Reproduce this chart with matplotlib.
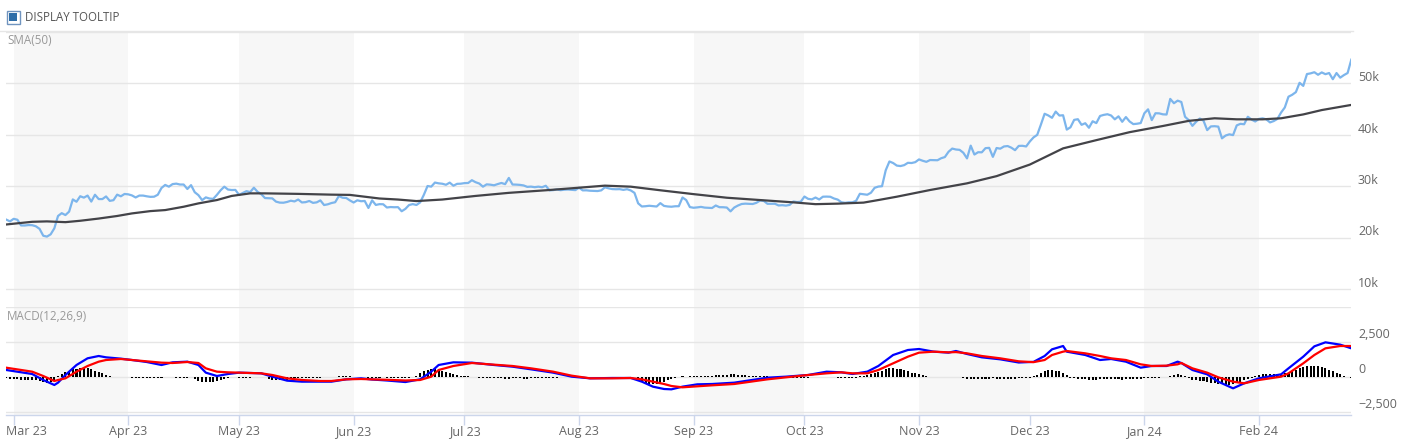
import matplotlib
matplotlib.use("Agg")
import matplotlib.pyplot as plt
import matplotlib.dates as mdates
import matplotlib.transforms as mtrans
from matplotlib.patches import Rectangle
from matplotlib.lines import Line2D
import numpy as np
import pandas as pd

plt.rcParams['font.family'] = ['Open Sans', 'DejaVu Sans']

# ---------------- data ----------------
start_date = "2023-02-27"
# daily closing price, thousands (Feb 27 2023 .. Feb 26 2024)
price_feb23 = [23.49, 23.15]
price_mar23 = [23.65, 23.47, 22.36, 22.35, 22.43, 22.41, 22.2, 21.7, 20.36, 20.19, 20.63, 21.8, 24.2, 24.75, 24.38,
               25.05, 27.42, 26.97, 28.04, 27.77, 28.17, 27.0, 28.33, 27.49, 27.49, 28.0, 27.14, 27.27, 28.35, 28.03, 28.48]
price_apr23 = [28.41, 28.2, 27.8, 28.17, 28.17, 28.03, 27.92, 27.95, 28.33, 29.65, 30.24, 29.9, 30.4, 30.49, 30.32,
               30.32, 29.45, 30.2, 28.82, 28.25, 27.28, 27.82, 27.59, 27.53, 28.31, 29.2, 29.9, 29.34, 29.25, 29.27]
price_may23 = [28.3, 28.68, 29.03, 28.85, 29.7, 28.9, 28.45, 27.69, 27.66, 27.62, 26.99, 26.8, 26.78, 26.93, 27.17,
               27.03, 27.4, 26.83, 26.89, 27.12, 26.75, 26.85, 27.23, 26.33, 26.47, 26.72, 26.87, 28.08, 27.75, 27.7, 27.22]
price_jun23 = [26.82, 27.25, 27.07, 27.12, 25.76, 27.24, 26.35, 26.5, 26.48, 25.85, 25.94, 25.9, 25.92, 25.12, 25.58,
               26.33, 26.51, 26.34, 26.84, 28.31, 30.03, 29.91, 30.7, 30.55, 30.47, 30.27, 30.69, 30.09, 30.45, 30.48]
price_jul23 = [30.59, 30.62, 31.16, 30.77, 30.51, 29.9, 30.35, 30.29, 30.17, 30.41, 30.62, 30.39, 31.6, 30.32, 30.3,
               30.25, 30.14, 29.86, 29.91, 29.8, 29.9, 29.79, 30.08, 29.18, 29.23, 29.35, 29.22, 29.31, 29.35, 29.28, 29.23]
price_aug23 = [29.7, 29.18, 29.19, 29.11, 29.09, 29.05, 29.18, 29.77, 29.58, 29.43, 29.4, 29.42, 29.28, 29.41, 29.17,
               28.7, 26.66, 26.05, 26.1, 26.19, 26.12, 26.04, 26.7, 26.16, 26.05, 26.0, 26.09, 26.1, 27.8, 27.3, 25.93]
price_sep23 = [25.8, 25.87, 25.97, 25.83, 25.78, 25.75, 26.24, 25.91, 25.9, 25.84, 25.1, 25.84, 26.23, 26.53, 26.6,
               26.57, 26.53, 26.76, 27.21, 27.13, 26.57, 26.58, 26.58, 26.25, 26.3, 26.22, 26.35, 27.02, 26.91, 26.97]
price_oct23 = [27.98, 27.53, 27.43, 27.79, 27.41, 27.95, 27.97, 27.94, 27.6, 27.39, 26.87, 26.76, 26.86, 26.86, 27.16,
               28.52, 28.42, 28.33, 28.72, 29.68, 29.92, 29.99, 33.09, 34.8, 34.5, 34.0, 33.91, 34.09, 34.54, 34.5, 34.67]
price_nov23 = [35.2, 34.94, 34.73, 35.08, 35.05, 35.04, 35.43, 35.66, 36.69, 37.31, 37.13, 37.06, 36.5, 35.4, 37.88,
               36.15, 36.6, 36.58, 37.39, 37.45, 35.7, 37.42, 37.29, 37.72, 37.8, 37.48, 37.0, 37.83, 37.85, 37.72]
price_dec23 = [38.69, 39.48, 39.98, 41.98, 44.08, 43.75, 43.29, 44.5, 43.73, 43.79, 41.0, 41.45, 42.89, 43.02, 41.93,
               42.24, 41.36, 42.62, 42.27, 43.65, 43.86, 43.99, 43.74, 43.0, 43.58, 42.52, 43.44, 42.58, 42.07, 42.14, 42.27]
price_jan24 = [44.18, 44.94, 42.85, 44.18, 44.16, 43.97, 43.93, 46.97, 46.13, 46.63, 46.37, 43.5, 42.84, 41.73, 42.51,
               43.15, 42.74, 40.9, 41.62, 41.66, 41.58, 39.3, 39.85, 40.08, 39.93, 41.82, 42.12, 42.04, 43.5, 42.95, 42.58]
price_feb24 = [43.08, 43.19, 43.0, 42.4, 42.66, 43.08, 44.32, 45.3, 47.4, 47.77, 48.29, 50.1, 49.5, 51.8, 51.94,
               52.16, 51.66, 52.12, 51.78, 52.0, 50.8, 52.0, 51.1, 51.6, 52.0, 54.6]

# SMA(50), read at sample dates (thousands)
sma_dates = ["2023-02-27", "2023-03-06", "2023-03-10", "2023-03-15", "2023-03-19", "2023-03-24", "2023-03-29",
             "2023-04-02", "2023-04-07", "2023-04-11", "2023-04-16", "2023-04-20", "2023-04-25", "2023-04-29",
             "2023-05-04", "2023-05-08", "2023-05-17", "2023-05-26", "2023-05-31", "2023-06-04", "2023-06-08",
             "2023-06-13", "2023-06-18", "2023-06-25", "2023-07-04", "2023-07-13", "2023-07-23", "2023-08-01",
             "2023-08-08", "2023-08-15", "2023-08-23", "2023-09-01", "2023-09-10", "2023-09-19", "2023-09-28",
             "2023-10-04", "2023-10-10", "2023-10-17", "2023-10-21", "2023-10-26", "2023-11-04", "2023-11-14",
             "2023-11-22", "2023-12-01", "2023-12-10", "2023-12-19", "2023-12-28", "2024-01-06", "2024-01-13",
             "2024-01-20", "2024-01-26", "2024-02-02", "2024-02-07", "2024-02-13", "2024-02-18", "2024-02-26"]
sma_values = [22.55, 23.07, 23.15, 23.0, 23.27, 23.7, 24.2,
              24.7, 25.15, 25.35, 26.0, 26.65, 27.3, 28.1,
              28.6, 28.6, 28.5, 28.35, 28.3, 27.95, 27.6,
              27.4, 27.1, 27.4, 28.1, 28.7, 29.2, 29.7,
              30.1, 29.9, 29.2, 28.45, 27.75, 27.3, 26.85,
              26.5, 26.6, 26.8, 27.3, 27.95, 29.25, 30.55,
              31.95, 34.2, 37.35, 38.95, 40.5, 41.7, 42.7,
              43.2, 43.0, 43.0, 43.2, 43.95, 44.8, 45.8]

# MACD(12,26,9) line and signal line, read at sample dates
macd_dates = ["2023-02-27", "2023-03-06", "2023-03-09", "2023-03-12", "2023-03-13", "2023-03-15", "2023-03-18",
              "2023-03-21", "2023-03-24", "2023-03-26", "2023-03-30", "2023-04-02", "2023-04-06", "2023-04-10",
              "2023-04-13", "2023-04-17", "2023-04-20", "2023-04-22", "2023-04-25", "2023-04-28", "2023-05-01",
              "2023-05-07", "2023-05-10", "2023-05-14", "2023-05-18", "2023-05-23", "2023-05-26", "2023-05-30",
              "2023-06-03", "2023-06-06", "2023-06-10", "2023-06-15", "2023-06-19", "2023-06-22", "2023-06-24",
              "2023-06-28", "2023-07-03", "2023-07-09", "2023-07-14", "2023-07-19", "2023-07-25", "2023-07-30",
              "2023-08-04", "2023-08-10", "2023-08-15", "2023-08-18", "2023-08-21", "2023-08-24", "2023-08-26",
              "2023-08-29", "2023-09-02", "2023-09-06", "2023-09-12", "2023-09-21", "2023-09-26", "2023-10-02",
              "2023-10-07", "2023-10-11", "2023-10-14", "2023-10-18", "2023-10-21", "2023-10-25", "2023-10-29",
              "2023-11-01", "2023-11-05", "2023-11-09", "2023-11-11", "2023-11-14", "2023-11-18", "2023-11-23",
              "2023-11-28", "2023-12-02", "2023-12-05", "2023-12-07", "2023-12-10", "2023-12-11", "2023-12-16",
              "2023-12-20", "2023-12-23", "2023-12-27", "2023-12-31", "2024-01-03", "2024-01-07", "2024-01-10",
              "2024-01-11", "2024-01-14", "2024-01-18", "2024-01-21", "2024-01-25", "2024-01-28", "2024-02-01",
              "2024-02-07", "2024-02-09", "2024-02-13", "2024-02-16", "2024-02-19", "2024-02-23", "2024-02-26"]
macd_line = [500, 214, -214, -571, -405, 143, 857,
             1336, 1500, 1405, 1310, 1214, 1071, 857,
             1048, 1095, 857, 310, 71, 214, 310,
             262, 24, -262, -333, -333, -333, -167,
             -95, -180, -250, -360, -167, 380, 857,
             1048, 1024, 857, 738, 548, 310, 24,
             -95, -71, -71, -333, -690, -857, -881,
             -690, -524, -500, -405, -48, 24, 143,
             380, 333, 214, 380, 786, 1571, 1929,
             2000, 1810, 1738, 1857, 1643, 1405, 1262,
             1035, 1080, 1500, 1976, 2214, 1810, 1571,
             1214, 1286, 1095, 667, 786, 786, 1095,
             1000, 500, 190, -333, -810, -452, -95,
             190, 619, 1452, 2190, 2476, 2310, 2048]
signal_line = [664, 380, 71, -286, -214, -95, 380,
               786, 1094, 1214, 1286, 1214, 1119, 1024,
               1000, 1071, 1000, 619, 380, 333, 310,
               262, 143, -95, -214, -286, -286, -167,
               -143, -170, -200, -250, -214, 24, 500,
               786, 1000, 881, 786, 619, 380, 95,
               -95, -95, -71, -167, -333, -500, -643,
               -738, -665, -595, -500, -167, -24, 143,
               262, 333, 262, 262, 500, 976, 1452,
               1738, 1810, 1760, 1780, 1690, 1500, 1334,
               1120, 1060, 1214, 1571, 1810, 1857, 1690,
               1500, 1334, 1214, 905, 786, 810, 905,
               1000, 619, 310, -24, -333, -452, -214,
               24, 262, 976, 1571, 2048, 2214, 2214]

# MACD histogram, daily from start_date
macd_hist = ([-100, -120, -150, -150, -180, -200, -200, -220, -250, -300]
             + [-380, -420, -350, -200]
             + [50, 200, 350, 450, 550, 600, 650, 650, 620, 550, 450, 350, 250, 150, 60]
             + [0, 0, 20, 0, 0]
             + [-60, -80, -80, -80, -90, -90, -80, -70, -60]
             + [0, -20, 0]
             + [-50, -60, -60, -40, 0]
             + [-150, -280, -350, -380, -380, -350, -300, -220, -150]
             + [-60, 30, 30]
             + [-40, -60, -60, -40]
             + [0, 20, 0, -30]
             + [-150, -200, -250, -250, -230, -180, -120]
             + [-60, -60, -50, -50, -60, -60, -50, -40, -30, -30, -20]
             + [30, 60, 60, 50, 40, 30, 20, 0, -10]
             + [-60, -70, -60, -40, -30, -50, -60, -60, -80, -80, -60, -40, -20]
             + [80, 250, 400, 500, 550, 550, 520, 450, 380, 300, 220, 160, 100]
             + [60, 40, 20, 0]
             + [-60, -80, -100, -100, -60, -80, -100, -120, -120, -100, -100, -80, -120, -120, -100,
                -80, -60, -80, -60, -50, -40, -40, -30, -30, -20]
             + [-20, -20, -10, -10, -10, 0, -10, -20, -20, -10, -10, -20, -20, -10, -10, 0, 0, -30]
             + [-200, -350, -420, -480, -500, -480, -420, -350, -250, -150]
             + [-80, 30, 40, 30, 40]
             + [40, 60, 60, 80, 100, 100, 120, 130, 150, 170, 190, 180, 150, 140, 120, 100, 80, 60, 50, 40, 40]
             + [30, 30, 20, 10, 0, -30, -40, -40, -50, -50, -40, -30, -20, 0, 20, 20, 0, -30, -60]
             + [-90, -100, -100, -80, -40, 40, 80]
             + [120, 180, 250, 350, 450, 550, 620, 640, 600, 550, 480, 400, 320, 250, 180, 120, 60]
             + [30, 0, 0, 20, 0, 0, -10, -20, -30]
             + [-100, -110, -120, -120, -110, -120, -120, -110, -100, -120, -120, -110, -110, -120, -110,
                -100, -90, -80, -60]
             + [50, 150, 300, 420, 480, 480, 450, 400, 300, 150]
             + [-60, -100, -120, -150, -150, -180, -190, -180, -150, -150, -130, -150, -150, -170, -180,
                -160, -140, -120, -130, -120, -100, -90, -80, -60, -40, -20, 0]
             + [100, 160, 180, 140, 60]
             + [-100, -200, -250, -280, -300, -350, -400, -450, -480, -520, -560, -560, -520, -450, -350,
                -250, -150, -50]
             + [80, 150, 180, 200, 200, 180, 200, 220, 250, 300]
             + [400, 500, 620, 720, 780, 800, 780, 760, 700, 620, 520, 400, 300, 200, 80, -30, -60])

month_ticks = ["2023-03-01", "2023-04-01", "2023-05-01", "2023-06-01", "2023-07-01", "2023-08-01",
               "2023-09-01", "2023-10-01", "2023-11-01", "2023-12-01", "2024-01-01", "2024-02-01"]
month_labels = ["Mar 23", "Apr 23", "May 23", "Jun 23", "Jul 23", "Aug 23",
                "Sep 23", "Oct 23", "Nov 23", "Dec 23", "Jan 24", "Feb 24"]
price_ticks = [10000, 20000, 30000, 40000, 50000]
price_tick_labels = ["10k", "20k", "30k", "40k", "50k"]
macd_ticks = [-2500, 0, 2500]
macd_tick_labels = ["\u22122,500", "0", "2,500"]

# ---------------- figure ----------------
W, H = 1401, 448
fig = plt.figure(figsize=(W / 100, H / 100), dpi=100)
fig.patch.set_facecolor("white")


def px_axes(left, top, right, bottom):
    return fig.add_axes([left / W, 1 - bottom / H, (right - left) / W, (bottom - top) / H])


ax1 = px_axes(6.3, 31.9, 1351.3, 307)
ax2 = px_axes(6.3, 307, 1351.3, 414.5)

prices = np.array(price_feb23 + price_mar23 + price_apr23 + price_may23 + price_jun23 + price_jul23 +
                  price_aug23 + price_sep23 + price_oct23 + price_nov23 + price_dec23 + price_jan24 +
                  price_feb24) * 1000
price_dates = pd.date_range(start_date, periods=len(prices), freq="D")
hist_dates = pd.date_range(start_date, periods=len(macd_hist), freq="D")

x0 = mdates.date2num(price_dates[0])
x1 = mdates.date2num(price_dates[-1])
ticks_num = mdates.date2num(pd.to_datetime(month_ticks))
band_edges = list(ticks_num) + [mdates.date2num(pd.Timestamp(month_ticks[-1]) + pd.offsets.MonthBegin(1))]

GRID = "#e6e6e6"
LABEL = "#666666"
AXFS = 9

for ax in (ax1, ax2):
    ax.set_facecolor("none")
    for i in range(0, len(band_edges) - 1, 2):
        ax.axvspan(band_edges[i], band_edges[i + 1], color="#f7f7f7", zorder=0, lw=0)
    for s in ax.spines.values():
        s.set_visible(False)
    ax.set_xlim(x0, x1)
    ax.tick_params(axis="y", left=False, right=False, labelleft=False, labelright=False)

# top pane
ax1.set_ylim(6500, 60000)
for v in price_ticks + [60000]:
    ax1.axhline(v, color=GRID, lw=1, zorder=1)
ax1.plot(price_dates, prices, color="#7cb5ec", lw=1.6, zorder=3, solid_joinstyle="round")
ax1.plot(pd.to_datetime(sma_dates), np.array(sma_values) * 1000, color="#434348", lw=1.6, zorder=4,
         solid_joinstyle="round")
ax1.set_xlim(x0, x1)
ax1.tick_params(axis="x", bottom=False, labelbottom=False)

ylab_tr1 = mtrans.blended_transform_factory(ax1.transAxes, ax1.transData) + \
    mtrans.ScaledTranslation(6.7 / 100, 5.6 / 100, fig.dpi_scale_trans)
for v, lab in zip(price_ticks, price_tick_labels):
    ax1.text(1.0, v, lab, transform=ylab_tr1, ha="left", va="center", color=LABEL, fontsize=AXFS, clip_on=False)

# MACD pane
ax2.set_ylim(-2679, 5000)
for v in macd_ticks + [5000]:
    ax2.axhline(v, color=GRID, lw=1, zorder=1)
ax2.bar(hist_dates, macd_hist, width=0.55, color="black", zorder=2, linewidth=0)
ax2.plot(pd.to_datetime(macd_dates), macd_line, color="#0000ff", lw=1.6, zorder=3, solid_joinstyle="round")
ax2.plot(pd.to_datetime(macd_dates), signal_line, color="#ff0000", lw=1.6, zorder=4, solid_joinstyle="round")
ax2.set_xlim(x0, x1)

ylab_tr2 = mtrans.blended_transform_factory(ax2.transAxes, ax2.transData) + \
    mtrans.ScaledTranslation(6.7 / 100, 7.0 / 100, fig.dpi_scale_trans)
for v, lab in zip(macd_ticks, macd_tick_labels):
    ax2.text(1.0, v, lab, transform=ylab_tr2, ha="left", va="center", color=LABEL, fontsize=AXFS, clip_on=False)

ax2.spines["bottom"].set_visible(True)
ax2.spines["bottom"].set_color("#ccd6eb")
ax2.spines["bottom"].set_linewidth(1)
ax2.set_xticks(ticks_num)
ax2.set_xticklabels([])
ax2.tick_params(axis="x", direction="out", length=7.2, width=1, color="#ccd6eb", labelbottom=False)

xlab_tr = mtrans.blended_transform_factory(ax2.transData, ax2.transAxes) + \
    mtrans.ScaledTranslation(0, -17.2 / 100, fig.dpi_scale_trans)
for i, (t, lab) in enumerate(zip(ticks_num, month_labels)):
    if i == 0:
        tr = xlab_tr + mtrans.ScaledTranslation(-7.7 / 100, 0, fig.dpi_scale_trans)
        ax2.text(t, 0, lab, transform=tr, ha="left", va="center", color=LABEL, fontsize=AXFS, clip_on=False)
    else:
        ax2.text(t, 0, lab, transform=xlab_tr, ha="center", va="center", color=LABEL, fontsize=AXFS,
                 clip_on=False)

# header / indicator labels
fig.add_artist(Line2D([0, 1353 / W], [1 - 31.5 / H, 1 - 31.5 / H], color=GRID, lw=1))
fig.add_artist(Rectangle((6.5 / W, 1 - 24 / H), 13 / W, 13 / H, transform=fig.transFigure,
                         facecolor="white", edgecolor="#7094bf", lw=1))
fig.add_artist(Rectangle((9 / W, 1 - 21.5 / H), 8 / W, 8 / H, transform=fig.transFigure,
                         facecolor="#2f6ea8", edgecolor="none"))
fig.text(25 / W, 1 - 17.5 / H, "DISPLAY TOOLTIP", ha="left", va="center", color="#555555", fontsize=8.3)
fig.text(7 / W, 1 - 41 / H, "SMA(50)", ha="left", va="center", color="#999999", fontsize=8.4)
fig.text(7 / W, 1 - 316 / H, "MACD(12,26,9)", ha="left", va="center", color="#999999", fontsize=8.4)

fig.savefig("out.png", dpi=100, facecolor="white")
